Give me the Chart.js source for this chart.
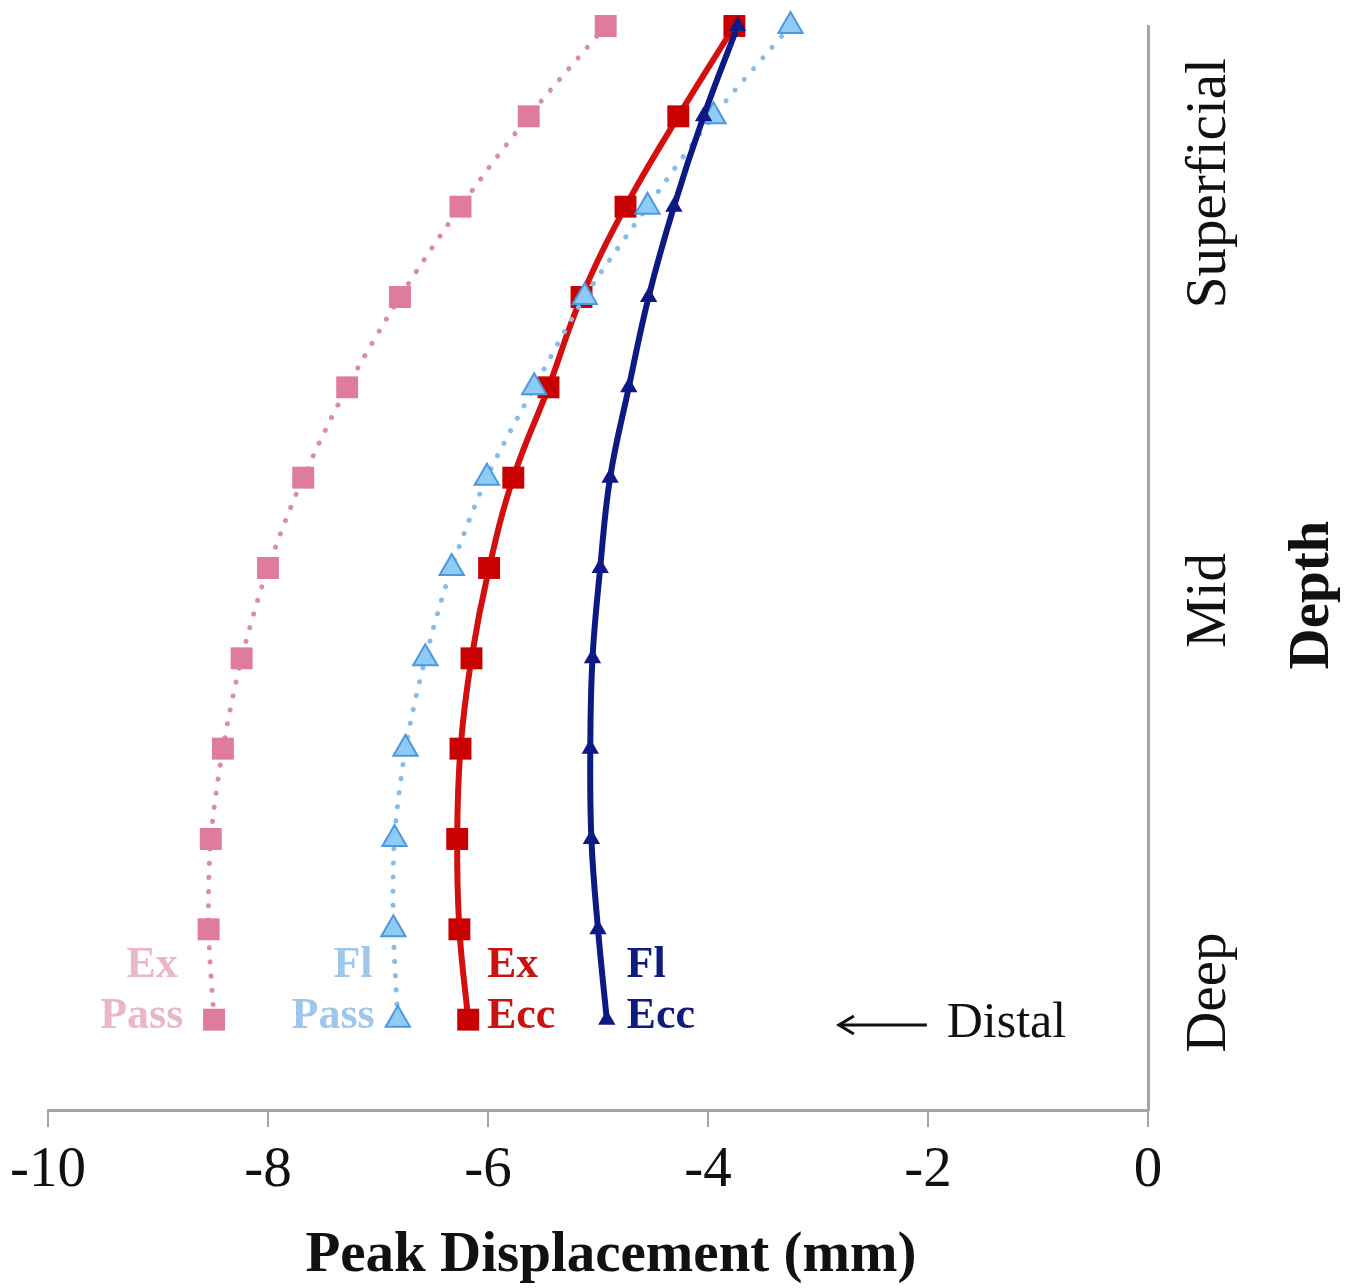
<!DOCTYPE html>
<html>
<head>
<meta charset="utf-8">
<script src="https://cdn.jsdelivr.net/npm/chart.js@4.4.1/dist/chart.umd.min.js"></script>
<style>
  html, body { margin: 0; padding: 0; background: #fff; }
  #wrap { width: 1360px; height: 1288px; }
</style>
</head>
<body>
<div id="wrap"><canvas id="depthChart"></canvas></div>
<script>
// depth level 0 = most superficial, 11 = deepest
const depthLevels = [0, 1, 2, 3, 4, 5, 6, 7, 8, 9, 10, 11];
const exPass = [-4.93, -5.63, -6.25, -6.80, -7.28, -7.68, -8.00, -8.24, -8.41, -8.52, -8.54, -8.49];
const flPass = [-3.25, -3.95, -4.55, -5.12, -5.58, -6.01, -6.33, -6.57, -6.75, -6.85, -6.86, -6.82];
const exEcc  = [-3.76, -4.27, -4.75, -5.15, -5.45, -5.77, -5.99, -6.15, -6.25, -6.28, -6.26, -6.18];
const flEcc  = [-3.73, -4.04, -4.31, -4.54, -4.72, -4.89, -4.98, -5.05, -5.07, -5.06, -5.00, -4.92];
const xTicks = [-10, -8, -6, -4, -2, 0];
const depthLabels = ['Superficial', 'Mid', 'Deep'];

const SERIF = '"Liberation Serif", "Times New Roman", serif';

function pts(values) {
  return values.map((v, i) => ({ x: v, y: depthLevels[i] }));
}

// series name labels next to the deep end of each curve
const seriesTags = [
  { lines: ['Ex', 'Pass'], color: '#e9b7c6', align: 'right', at: [-8.82, -8.77] },
  { lines: ['Fl', 'Pass'], color: '#9fc7ec', align: 'right', at: [-7.05, -7.03] },
  { lines: ['Ex', 'Ecc'],  color: '#c91313', align: 'left',  at: [-6.01, -6.01] },
  { lines: ['Fl', 'Ecc'],  color: '#0f1c7e', align: 'left',  at: [-4.74, -4.74] }
];

const textPlugin = {
  id: 'depthText',
  afterDraw(chart) {
    const { ctx, scales: { x, y } } = chart;
    ctx.save();

    // right side depth labels (rotated)
    const labelAt = [1.74, 6.36, 10.7];
    ctx.fillStyle = '#111';
    ctx.textAlign = 'center';
    ctx.textBaseline = 'alphabetic';
    ctx.font = '57px ' + SERIF;
    depthLabels.forEach((t, i) => {
      ctx.save();
      ctx.translate(y.left + 77, y.getPixelForValue(labelAt[i]));
      ctx.rotate(-Math.PI / 2);
      ctx.fillText(t, 0, 0);
      ctx.restore();
    });

    ctx.font = 'bold 57px ' + SERIF;
    ctx.save();
    ctx.translate(y.left + 180, y.getPixelForValue(6.3));
    ctx.rotate(-Math.PI / 2);
    ctx.fillText('Depth', 0, 0);
    ctx.restore();

    // x axis title
    ctx.font = 'bold 57px ' + SERIF;
    ctx.fillText('Peak Displacement (mm)', 611, 1271);

    // series tags
    ctx.font = 'bold 44px ' + SERIF;
    seriesTags.forEach(tag => {
      ctx.fillStyle = tag.color;
      ctx.textAlign = tag.align;
      ctx.fillText(tag.lines[0], x.getPixelForValue(tag.at[0]), y.getPixelForValue(10.53));
      ctx.fillText(tag.lines[1], x.getPixelForValue(tag.at[1]), y.getPixelForValue(11.09));
    });

    // distal arrow
    const ay = y.getPixelForValue(11.06);
    const ax0 = x.getPixelForValue(-2.81);
    const ax1 = x.getPixelForValue(-2.01);
    ctx.strokeStyle = '#111';
    ctx.lineWidth = 3;
    ctx.beginPath();
    ctx.moveTo(ax1, ay);
    ctx.lineTo(ax0 + 2, ay);
    ctx.stroke();
    ctx.beginPath();
    ctx.moveTo(ax0 + 15, ay - 9);
    ctx.lineTo(ax0, ay);
    ctx.lineTo(ax0 + 15, ay + 9);
    ctx.stroke();
    ctx.fillStyle = '#111';
    ctx.textAlign = 'left';
    ctx.font = '50px ' + SERIF;
    ctx.fillText('Distal', x.getPixelForValue(-1.83), ay + 12);

    ctx.restore();
  }
};

new Chart(document.getElementById('depthChart'), {
  type: 'line',
  data: {
    datasets: [
      {
        label: 'Ex Pass',
        data: pts(exPass),
        borderColor: '#d98ea3',
        borderWidth: 5,
        borderDash: [0.1, 14],
        borderCapStyle: 'round',
        tension: 0.3,
        pointStyle: 'rect',
        pointRadius: 15.5,
        pointBackgroundColor: '#df7b9c',
        pointBorderColor: '#df7b9c',
        pointBorderWidth: 0,
        clip: false,
        order: 3
      },
      {
        label: 'Ex Ecc',
        data: pts(exEcc),
        borderColor: '#d40f0f',
        borderWidth: 6,
        tension: 0.4,
        pointStyle: 'rect',
        pointRadius: 15.5,
        pointBackgroundColor: '#c80000',
        pointBorderColor: '#c80000',
        pointBorderWidth: 0,
        clip: false,
        order: 2
      },
      {
        label: 'Fl Pass',
        data: pts(flPass),
        borderColor: '#86bde8',
        borderWidth: 5,
        borderDash: [0.1, 14],
        borderCapStyle: 'round',
        tension: 0.3,
        pointStyle: 'triangle',
        pointRadius: 14,
        pointBackgroundColor: '#8ecbf5',
        pointBorderColor: '#4d98de',
        pointBorderWidth: 2,
        clip: false,
        order: 1
      },
      {
        label: 'Fl Ecc',
        data: pts(flEcc),
        borderColor: '#0d1a85',
        borderWidth: 6,
        tension: 0.4,
        pointStyle: 'triangle',
        pointRadius: 10,
        pointBackgroundColor: '#0d1a85',
        pointBorderColor: '#0d1a85',
        pointBorderWidth: 0,
        clip: false,
        order: 0
      }
    ]
  },
  options: {
    responsive: true,
    maintainAspectRatio: false,
    animation: false,
    layout: { padding: { left: 48, top: 26, right: 0, bottom: 0 } },
    plugins: {
      legend: { display: false },
      tooltip: { enabled: false }
    },
    scales: {
      x: {
        type: 'linear',
        position: 'bottom',
        min: -10,
        max: 0,
        afterBuildTicks: (s) => { s.ticks = xTicks.map(v => ({ value: v })); },
        afterFit: (s) => { s.height = 178; },
        grid: {
          drawOnChartArea: false,
          drawTicks: true,
          tickLength: 17,
          color: '#9ea8a8',
          lineWidth: 2
        },
        border: { display: true, color: '#9ea8a8', width: 3 },
        ticks: {
          padding: 10,
          color: '#111',
          font: { family: SERIF, size: 57 },
          maxRotation: 0
        }
      },
      y: {
        type: 'linear',
        position: 'right',
        min: 0,
        max: 12,
        reverse: true,
        afterFit: (s) => { s.width = 212; },
        grid: { display: false },
        border: { display: true, color: '#9ea8a8', width: 3 },
        ticks: { display: false }
      }
    }
  },
  plugins: [textPlugin]
});
</script>
</body>
</html>
